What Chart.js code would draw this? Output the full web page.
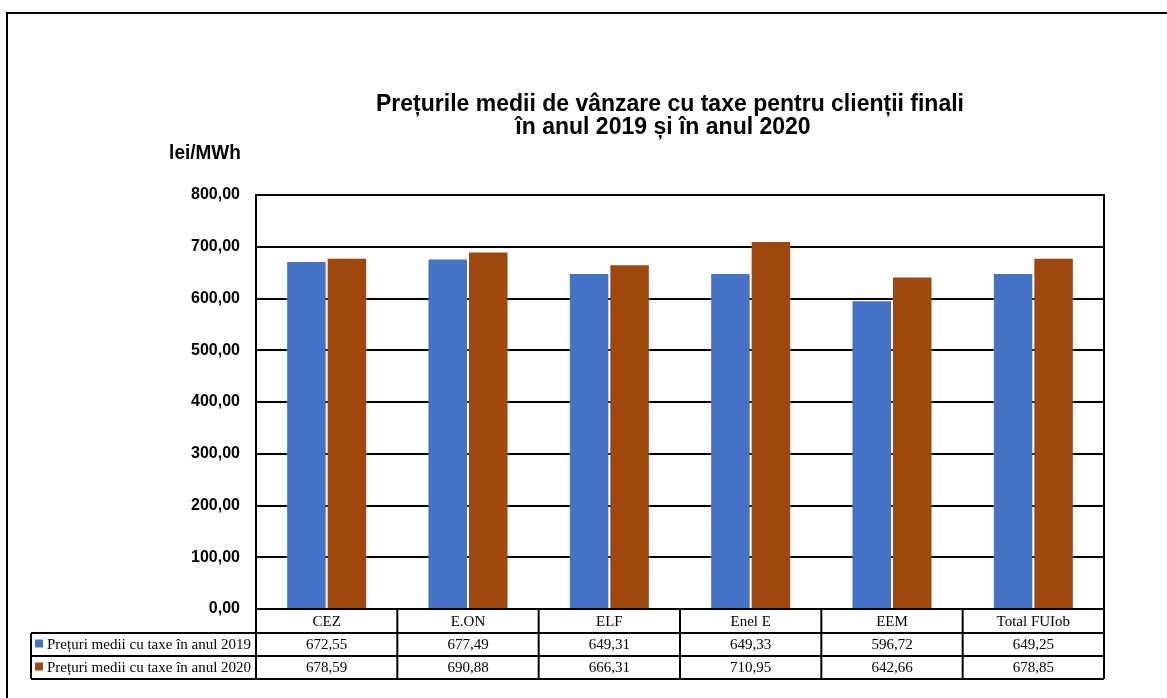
<!DOCTYPE html>
<html>
<head>
<meta charset="utf-8">
<script src="https://cdn.jsdelivr.net/npm/chart.js@4/dist/chart.umd.min.js"></script>
<style>
  html, body { margin: 0; padding: 0; background: #fff; }
  canvas { display: block; }
</style>
</head>
<body>
<canvas id="pretChart" width="1167" height="698"></canvas>
<script>
// --- date ---
const categories = ['CEZ', 'E.ON', 'ELF', 'Enel E', 'EEM', 'Total FUIob'];
const seriesLabels = ['Prețuri medii cu taxe în anul 2019', 'Prețuri medii cu taxe în anul 2020'];
const prices2019 = [672.55, 677.49, 649.31, 649.33, 596.72, 649.25];
const prices2020 = [678.59, 690.88, 666.31, 710.95, 642.66, 678.85];
const titleLines = ['Prețurile medii de vânzare cu taxe pentru clienții finali', 'în anul 2019 și în anul 2020'];
const unitLabel = 'lei/MWh';

const seriesColors = ['#4472C4', '#9E480E'];
const sansBold = "'Liberation Sans', Arial, sans-serif";
const serif = "'Liberation Serif', 'Times New Roman', serif";

// virgula ca separator zecimal
function fmt(v) {
    return v.toFixed(2).replace('.', ',');
}

// text putin alungit pe verticala, ca in original
function tallText(ctx, txt, x, y, k) {
    ctx.save();
    ctx.translate(x, y);
    ctx.scale(1, k);
    ctx.fillText(txt, 0, 0);
    ctx.restore();
}

// titlu, unitate, tabel de date si chenare
const decorPlugin = {
    id: 'decor',
    afterDraw(chart) {
        const ctx = chart.ctx;
        const area = chart.chartArea;
        const x = chart.scales.x;
        const colW = area.width / categories.length;
        const rowH = 23;
        const tTop = area.bottom + 1;
        const allSeries = [prices2019, prices2020];

        ctx.save();

        // chenarul exterior
        ctx.strokeStyle = '#000';
        ctx.lineWidth = 2;
        ctx.beginPath();
        ctx.moveTo(7, chart.height);
        ctx.lineTo(7, 13);
        ctx.lineTo(chart.width, 13);
        ctx.stroke();

        // titlu
        ctx.fillStyle = '#000';
        ctx.textAlign = 'center';
        ctx.textBaseline = 'alphabetic';
        ctx.font = 'bold 23px ' + sansBold;
        tallText(ctx, titleLines[0], 670, 111, 1.08);
        tallText(ctx, titleLines[1], 663, 134, 1.08);

        ctx.font = 'bold 19px ' + sansBold;
        tallText(ctx, unitLabel, 205, 159, 1.1);

        // chenarul zonei graficului
        ctx.lineWidth = 2;
        ctx.strokeRect(area.left, area.top, area.width, area.height);

        // tabel
        ctx.beginPath();
        ctx.moveTo(31, tTop + rowH);
        ctx.lineTo(area.right, tTop + rowH);
        for (let r = 2; r <= 3; r++) {
            ctx.moveTo(31, tTop + r * rowH);
            ctx.lineTo(area.right, tTop + r * rowH);
        }
        for (let i = 0; i <= categories.length; i++) {
            const cx = area.left + i * colW;
            ctx.moveTo(cx, area.bottom);
            ctx.lineTo(cx, tTop + 3 * rowH);
        }
        ctx.moveTo(31, tTop + rowH);
        ctx.lineTo(31, tTop + 3 * rowH);
        ctx.stroke();

        ctx.font = '15px ' + serif;
        ctx.textBaseline = 'middle';
        ctx.textAlign = 'center';
        categories.forEach((c, i) => {
            const cx = x.getPixelForValue(i);
            ctx.fillText(c, cx, tTop + rowH / 2 + 1);
            allSeries.forEach((s, r) => {
                ctx.fillText(fmt(s[i]), cx, tTop + (r + 1) * rowH + rowH / 2 + 1);
            });
        });

        // legenda in tabel
        ctx.textAlign = 'left';
        seriesLabels.forEach((lbl, r) => {
            const cy = tTop + (r + 1) * rowH + rowH / 2;
            ctx.fillStyle = seriesColors[r];
            ctx.fillRect(35, cy - 5, 8, 8);
            ctx.fillStyle = '#000';
            ctx.fillText(lbl, 47, cy + 1);
        });

        ctx.restore();
    }
};

new Chart(document.getElementById('pretChart'), {
    type: 'bar',
    data: {
        labels: categories,
        datasets: [
            {
                label: seriesLabels[0],
                data: prices2019,
                backgroundColor: seriesColors[0],
                borderColor: 'rgba(255,255,255,0.18)',
                borderWidth: 1,
                borderSkipped: 'bottom'
            },
            {
                label: seriesLabels[1],
                data: prices2020,
                backgroundColor: seriesColors[1],
                borderColor: 'rgba(255,255,255,0.18)',
                borderWidth: 1,
                borderSkipped: 'bottom'
            }
        ]
    },
    options: {
        responsive: false,
        animation: false,
        devicePixelRatio: 1,
        layout: {
            padding: { left: 166, top: 195, right: 63, bottom: 89 }
        },
        datasets: {
            bar: { categoryPercentage: 0.573, barPercentage: 1.0 }
        },
        plugins: {
            legend: { display: false },
            title: { display: false },
            tooltip: { enabled: false }
        },
        scales: {
            x: {
                display: false
            },
            y: {
                min: 0,
                max: 800,
                afterFit(scale) { scale.width = 90; },
                ticks: {
                    stepSize: 100,
                    padding: 16,
                    color: '#000',
                    font: { family: sansBold, size: 16, weight: 'bold' },
                    callback: (v) => fmt(v)
                },
                grid: {
                    color: '#000',
                    lineWidth: 2,
                    drawTicks: false
                },
                border: { display: true, color: '#000', width: 2 }
            }
        }
    },
    plugins: [decorPlugin]
});
</script>
</body>
</html>
